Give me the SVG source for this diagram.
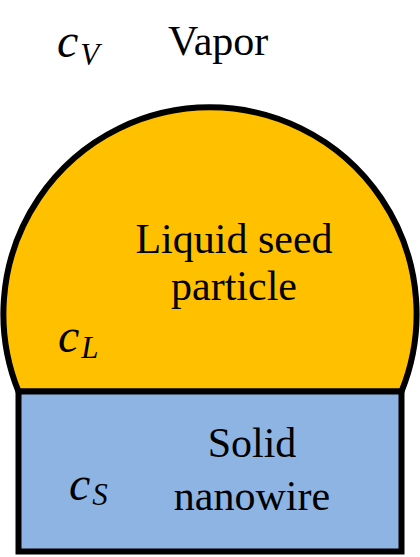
<svg xmlns="http://www.w3.org/2000/svg" width="420" height="557" viewBox="0 0 420 557">
<style>
.shape{stroke:#000;stroke-width:6;stroke-linejoin:miter}
.lbl{font-family:"Liberation Serif","Times New Roman",serif;font-size:42px;fill:#000}
.sym{font-family:"Liberation Serif","Times New Roman",serif;font-style:italic;fill:#000}
</style>
<rect width="420" height="557" fill="#fff"/>
<g id="droplet">
<path class="shape" d="M18.5,391.5 A206.6,206.6 0 1 1 401.5,391.5 Z" fill="#FFC000"/>
<text class="lbl" x="234" y="253" text-anchor="middle">Liquid seed</text>
<text class="lbl" x="234" y="300" text-anchor="middle">particle</text>
<text class="sym" x="58" y="352" font-size="48">c<tspan font-size="31" dx="2" dy="6">L</tspan></text>
</g>
<g id="nanowire">
<rect class="shape" x="18.5" y="391.5" width="383" height="160" fill="#8EB4E3"/>
<text class="lbl" x="252" y="457" text-anchor="middle">Solid</text>
<text class="lbl" x="252" y="510" text-anchor="middle">nanowire</text>
<text class="sym" x="69" y="500" font-size="48">c<tspan font-size="31" dx="2" dy="5">S</tspan></text>
</g>
<g id="vapor">
<text class="lbl" x="168" y="55">Vapor</text>
<text class="sym" x="57" y="57" font-size="48">c<tspan font-size="31" dx="2" dy="8">V</tspan></text>
</g>
<g id="connectors"/>
</svg>
